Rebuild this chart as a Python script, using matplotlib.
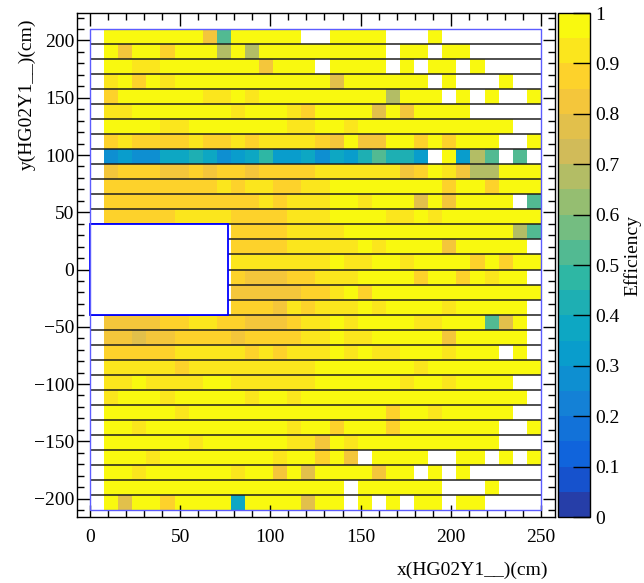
import numpy as np
import matplotlib
matplotlib.use("Agg")
import matplotlib.pyplot as plt
from matplotlib.colors import ListedColormap, BoundaryNorm
from matplotlib.patches import Rectangle
from matplotlib.ticker import MultipleLocator

nan = float("nan")

# ---------------- data ----------------
x_range = (0.0, 250.0)          # cm
y_range = (-210.0, 210.0)       # cm
n_xbins = 32
n_ybins = 32
hole_x = (0.0, 76.7)
hole_y = (-39.375, 39.375)

# efficiency per cell, top row (y = 210) first, columns from x = 0
efficiency_rows = [
    [nan,0.98,0.98,0.98,0.98,0.98,0.98,0.98,0.83,0.53,0.98,0.98,0.98,0.98,0.98,nan,nan,0.98,0.98,0.98,0.98,nan,nan,nan,0.98,nan,nan,nan,nan,nan,nan,nan],
    [nan,0.98,0.83,0.98,0.98,0.88,0.98,0.98,0.98,0.68,0.98,0.68,0.98,0.98,0.98,0.98,0.98,0.98,0.98,0.98,0.98,nan,0.98,0.98,nan,0.98,0.98,nan,nan,nan,nan,nan],
    [nan,0.98,0.98,0.93,0.93,0.98,0.98,0.98,0.98,0.98,0.98,0.98,0.83,0.98,0.98,0.98,nan,0.98,0.98,0.98,0.98,nan,0.98,nan,0.98,0.98,nan,0.98,nan,nan,nan,nan],
    [nan,0.93,0.98,0.88,0.98,0.93,0.98,0.98,0.98,0.98,0.98,0.98,0.98,0.98,0.98,0.98,0.98,0.78,0.98,0.98,0.98,0.98,0.98,0.98,nan,0.98,nan,nan,nan,0.98,nan,nan],
    [nan,0.88,0.98,0.98,0.98,0.98,0.98,0.98,0.93,0.93,0.98,0.93,0.98,0.98,0.98,0.98,0.98,0.98,0.98,0.98,0.98,0.68,0.98,0.98,0.98,nan,0.98,nan,0.98,nan,nan,0.98],
    [nan,0.93,0.93,0.98,0.98,0.98,0.98,0.98,0.98,0.98,0.93,0.98,0.98,0.98,0.93,0.88,0.98,0.98,0.98,0.98,0.78,0.98,0.83,0.98,0.98,0.98,0.98,nan,nan,nan,nan,nan],
    [nan,0.98,0.98,0.98,0.98,0.93,0.93,0.98,0.98,0.98,0.98,0.98,0.98,0.98,0.93,0.93,0.98,0.98,0.93,0.98,0.98,0.98,0.98,0.98,0.98,0.98,0.98,0.98,0.98,0.98,nan,nan],
    [nan,0.88,0.93,0.88,0.88,0.88,0.88,0.93,0.88,0.88,0.93,0.88,0.93,0.93,0.93,0.93,0.88,0.83,0.98,0.83,0.83,0.98,0.98,0.88,0.98,0.88,0.98,0.98,0.98,nan,nan,0.98],
    [nan,0.275,0.325,0.275,0.275,0.375,0.375,0.425,0.375,0.275,0.325,0.375,0.475,0.325,0.325,0.375,0.275,0.375,0.325,0.425,0.525,0.425,0.425,0.325,nan,0.98,0.325,0.675,0.525,nan,0.525,nan],
    [nan,0.83,0.88,0.88,0.88,0.83,0.83,0.88,0.83,0.88,0.88,0.83,0.88,0.88,0.88,0.88,0.93,0.93,0.93,0.93,0.93,0.93,0.83,0.88,0.98,0.93,0.83,0.675,0.675,0.98,0.98,0.98],
    [nan,0.88,0.88,0.88,0.88,0.88,0.88,0.88,0.88,0.93,0.88,0.93,0.93,0.88,0.88,0.93,0.93,0.98,0.98,0.98,0.98,0.98,0.98,0.98,0.98,0.88,0.98,0.98,0.88,0.98,0.98,0.98],
    [nan,0.88,0.88,0.88,0.88,0.88,0.88,0.88,0.88,0.88,0.88,0.88,0.93,0.88,0.93,0.93,0.93,0.98,0.98,0.93,0.98,0.98,0.98,0.78,0.98,0.83,0.98,0.98,0.98,0.98,nan,0.525],
    [nan,0.88,0.88,0.88,0.88,0.88,0.93,0.93,0.93,0.93,0.88,0.88,0.88,0.88,0.93,0.93,0.93,0.98,0.98,0.98,0.98,0.93,0.93,0.98,0.93,0.98,0.98,0.98,0.98,0.98,0.98,0.98],
    [nan,nan,nan,nan,nan,nan,nan,nan,nan,nan,0.88,0.88,0.88,0.87,0.93,0.93,0.93,0.93,0.98,0.98,0.98,0.98,0.98,0.98,0.98,0.98,0.98,0.98,0.98,0.98,0.675,0.525],
    [nan,nan,nan,nan,nan,nan,nan,nan,nan,nan,0.88,0.88,0.88,0.88,0.93,0.93,0.93,0.93,0.93,0.98,0.93,0.98,0.98,0.98,0.98,0.83,0.98,0.98,0.98,0.98,0.98,nan],
    [nan,nan,nan,nan,nan,nan,nan,nan,nan,nan,0.93,0.93,0.93,0.93,0.93,0.93,0.93,0.98,0.93,0.93,0.98,0.98,0.93,0.98,0.98,0.98,0.98,0.88,0.98,0.88,0.98,0.98],
    [nan,nan,nan,nan,nan,nan,nan,nan,nan,nan,0.88,0.83,0.83,0.83,0.88,0.88,0.93,0.93,0.93,0.98,0.98,0.98,0.98,0.88,0.98,0.98,0.88,0.98,0.93,0.98,0.98,nan],
    [nan,nan,nan,nan,nan,nan,nan,nan,nan,nan,0.83,0.83,0.83,0.83,0.83,0.88,0.88,0.93,0.98,0.88,0.98,0.98,0.98,0.98,0.98,0.98,0.98,0.98,0.98,0.98,0.98,0.98],
    [nan,nan,nan,nan,nan,nan,nan,nan,nan,nan,0.88,0.88,0.88,0.83,0.93,0.88,0.93,0.93,0.93,0.98,0.93,0.98,0.98,0.98,0.98,0.93,0.98,0.98,0.98,0.98,0.98,nan],
    [nan,0.83,0.83,0.83,0.83,0.88,0.88,0.93,0.93,0.88,0.88,0.83,0.83,0.83,0.88,0.93,0.93,0.98,0.93,0.98,0.98,0.98,0.98,0.93,0.93,0.98,0.98,0.98,0.525,0.78,0.98,nan],
    [nan,0.83,0.83,0.78,0.83,0.83,0.88,0.88,0.88,0.88,0.83,0.88,0.88,0.88,0.88,0.93,0.93,0.98,0.93,0.93,0.98,0.98,0.98,0.98,0.98,0.83,0.98,0.98,0.98,0.98,0.98,nan],
    [nan,0.88,0.88,0.88,0.88,0.88,0.93,0.93,0.93,0.93,0.93,0.88,0.93,0.88,0.93,0.93,0.93,0.98,0.93,0.98,0.93,0.93,0.98,0.98,0.98,0.93,0.98,0.98,0.98,nan,0.98,nan],
    [nan,0.93,0.93,0.93,0.93,0.93,0.88,0.93,0.93,0.93,0.93,0.93,0.93,0.93,0.93,0.93,0.98,0.98,0.98,0.98,0.98,0.98,0.98,0.93,0.98,0.98,0.98,0.98,0.98,0.98,0.98,0.98],
    [nan,0.93,0.93,0.98,0.93,0.93,0.93,0.93,0.98,0.98,0.93,0.93,0.93,0.93,0.93,0.93,0.98,0.98,0.98,0.98,0.98,0.98,0.93,0.98,0.98,0.93,0.98,0.98,0.98,0.98,nan,nan],
    [nan,0.93,0.98,0.98,0.98,0.93,0.98,0.98,0.98,0.98,0.98,0.93,0.98,0.98,0.93,0.98,0.98,0.98,0.98,0.98,0.98,0.98,0.98,0.98,0.98,0.98,0.98,0.98,0.98,0.98,0.98,nan],
    [nan,0.98,0.98,0.98,0.98,0.98,0.93,0.98,0.98,0.98,0.98,0.98,0.98,0.98,0.98,0.98,0.98,0.98,0.98,0.98,0.98,0.88,0.98,0.98,0.93,0.98,0.98,0.98,0.98,0.98,nan,nan],
    [nan,0.98,0.98,0.93,0.98,0.98,0.98,0.98,0.98,0.98,0.98,0.98,0.98,0.98,0.93,0.98,0.98,0.88,0.98,0.98,0.98,0.88,0.98,0.98,0.98,0.98,0.98,0.98,0.98,nan,nan,0.98],
    [nan,0.98,0.98,0.98,0.98,0.98,0.98,0.93,0.98,0.98,0.98,0.98,0.98,0.98,0.93,0.93,0.83,0.98,0.93,0.98,0.98,0.98,0.98,0.98,0.98,0.98,0.98,0.98,0.98,nan,nan,nan],
    [nan,0.98,0.98,0.98,0.93,0.98,0.98,0.98,0.98,0.98,0.98,0.98,0.98,0.93,0.98,0.98,0.88,0.98,0.83,nan,0.98,0.98,0.98,0.98,nan,nan,0.98,0.98,nan,0.98,nan,0.98],
    [nan,0.98,0.98,0.93,0.98,0.98,0.98,0.98,0.98,0.98,0.93,0.98,0.98,0.83,0.98,0.78,0.98,0.98,0.98,0.98,0.83,0.98,0.98,nan,0.98,nan,0.98,nan,nan,nan,nan,nan],
    [nan,0.98,0.98,0.98,0.98,0.98,0.98,0.98,0.98,0.98,0.98,0.98,0.98,0.98,0.98,0.98,0.98,0.98,nan,0.98,0.98,0.98,0.98,0.98,0.98,nan,nan,nan,0.98,nan,nan,nan],
    [nan,0.98,0.78,0.98,0.98,0.88,0.98,0.98,0.98,0.98,0.37,0.98,0.98,0.98,0.98,0.78,0.98,0.98,nan,0.98,nan,0.98,nan,0.98,0.98,nan,0.98,0.98,nan,nan,nan,nan],
]

z_ticks = [0.0, 0.1, 0.2, 0.3, 0.4, 0.5, 0.6, 0.7, 0.8, 0.9, 1.0]
z_ticklabels = ["0", "0.1", "0.2", "0.3", "0.4", "0.5", "0.6", "0.7", "0.8", "0.9", "1"]
x_title = "x(HG02Y1__)(cm)"
y_title = "y(HG02Y1__)(cm)"
z_title = "Efficiency"

# ---------------- ROOT kBird palette, 20 contour levels ----------------
stops = [0.0000, 0.1250, 0.2500, 0.3750, 0.5000, 0.6250, 0.7500, 0.8750, 1.0000]
red   = [0.2082, 0.0592, 0.0780, 0.0232, 0.1802, 0.5301, 0.8186, 0.9956, 0.9764]
green = [0.1664, 0.3599, 0.5041, 0.6419, 0.7178, 0.7492, 0.7328, 0.7862, 0.9832]
blue  = [0.5293, 0.8684, 0.8385, 0.7914, 0.6425, 0.4662, 0.3499, 0.1968, 0.0539]
ncol = 255
table = []
for g in range(1, len(stops)):
    n = int(np.floor(ncol * stops[g]) - np.floor(ncol * stops[g - 1]))
    for c in range(n):
        table.append((red[g-1] + c * (red[g] - red[g-1]) / n,
                      green[g-1] + c * (green[g] - green[g-1]) / n,
                      blue[g-1] + c * (blue[g] - blue[g-1]) / n))
ncont = 20
band_colors = [table[min(int((i + 0.99) * ncol / ncont), ncol - 1)] for i in range(ncont)]
cmap = ListedColormap(band_colors)
norm = BoundaryNorm(np.linspace(0, 1, ncont + 1), ncont)

# ---------------- figure ----------------
plt.rcParams["font.family"] = ["Liberation Serif", "DejaVu Serif"]
W, H = 644, 583
fig = plt.figure(figsize=(W / 100, H / 100), dpi=100)
fig.patch.set_facecolor("white")

fl, fr, ft, fb = 77, 555, 13, 517
ax = fig.add_axes([fl / W, (H - fb) / H, (fr - fl) / W, (fb - ft) / H])

x_edges = np.linspace(x_range[0], x_range[1], n_xbins + 1)
y_edges = np.linspace(y_range[0], y_range[1], n_ybins + 1)
z = np.ma.masked_invalid(np.array(efficiency_rows, dtype=float)[::-1])
mesh = ax.pcolormesh(x_edges, y_edges, z, cmap=cmap, norm=norm,
                     shading="flat", antialiased=False, linewidth=0, zorder=1)

# strip boundary lines
ax.hlines(y_edges[1:-1], x_range[0], x_range[1], colors="#1e1e1e", linewidth=1.1, zorder=2)

# beam hole
ax.add_patch(Rectangle((hole_x[0], hole_y[0]), hole_x[1] - hole_x[0], hole_y[1] - hole_y[0],
                       facecolor="white", edgecolor="#0000ff", linewidth=1.3, zorder=3))
# detector outline
ax.add_patch(Rectangle((x_range[0], y_range[0]), x_range[1] - x_range[0], y_range[1] - y_range[0],
                       fill=False, edgecolor="#5c5cff", linewidth=1.0, zorder=4))

ax.set_xlim(-7.2, 257.8)
ax.set_ylim(-216.1, 224.0)
ax.xaxis.set_major_locator(MultipleLocator(50))
ax.xaxis.set_minor_locator(MultipleLocator(10))
ax.yaxis.set_major_locator(MultipleLocator(50))
ax.yaxis.set_minor_locator(MultipleLocator(10))
ax.tick_params(which="both", direction="in", top=True, right=True, width=1.0, colors="black")
ax.tick_params(which="major", length=9)
ax.tick_params(which="minor", length=5)
ax.tick_params(axis="x", which="major", labelsize=14, pad=8.5)
ax.tick_params(axis="y", which="major", labelsize=14, pad=2.0)
for s in ax.spines.values():
    s.set_linewidth(1.0)

# colorbar
cl, cr = 558, 590
cax = fig.add_axes([cl / W, (H - fb) / H, (cr - cl) / W, (fb - ft) / H])
cb = fig.colorbar(mesh, cax=cax, ticks=z_ticks)
cb.ax.set_yticklabels(z_ticklabels)
cb.ax.minorticks_off()
cb.ax.tick_params(direction="in", length=12, width=1.0, left=False, right=True,
                  labelsize=14, pad=4)
cb.outline.set_linewidth(1.0)

fig.text(27 / W, (H - 19) / H, y_title, rotation=90, ha="center", va="top", fontsize=14)
fig.text(548 / W, (H - 570) / H, x_title, ha="right", va="center", fontsize=14)
fig.text(632 / W, (H - 256) / H, z_title, rotation=90, ha="center", va="center", fontsize=14)

fig.savefig("out.png", dpi=100, facecolor="white")
